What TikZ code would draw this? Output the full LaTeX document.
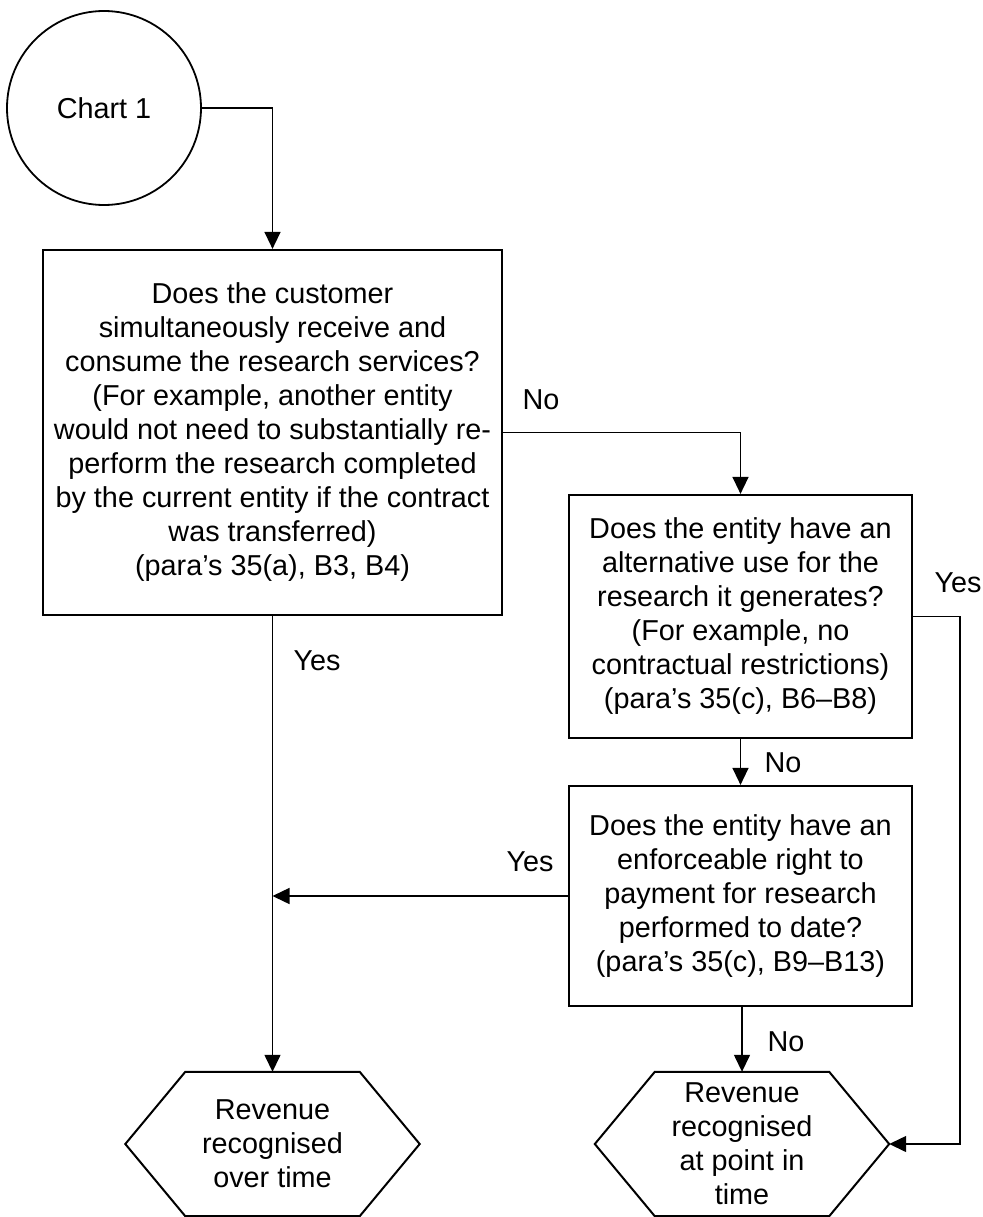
\documentclass[tikz,border=0pt]{standalone}
\usepackage{fontspec}
\setmainfont{Liberation Sans}
\usetikzlibrary{arrows.meta,calc}
\tikzset{
  txt/.style={font=\fontsize{28.8}{34}\selectfont, align=center, inner sep=0pt},
  startnode/.style={txt, circle, draw, line width=1.8pt, minimum size=194pt},
  qbox/.style={txt, rectangle, draw, line width=2.2pt},
  hexnode/.style={txt, rectangle, draw=none, minimum width=294pt, minimum height=144pt},
  hexline/.style={line width=2pt, line join=miter},
  conn/.style={line width=1.4pt, -{Triangle[width=16pt,length=17pt]}},
  lbl/.style={txt}
}
\begin{document}
\begin{tikzpicture}[x=1pt,y=-1pt]
\useasboundingbox (0,0) rectangle (982,1217);
\node[startnode] (start) at (104,108) {Chart 1};
\node[qbox, minimum width=459pt, minimum height=365pt] (q1) at (272.5,432.5)
  {Does the customer\\simultaneously receive and\\consume the research services?\\(For example, another entity\\would not need to substantially re-\\perform the research completed\\by the current entity if the contract\\was transferred)\\(para’s 35(a), B3, B4)};
\node[qbox, minimum width=343pt, minimum height=243pt] (q2) at (740.5,616.5)
  {Does the entity have an\\alternative use for the\\research it generates?\\(For example, no\\contractual restrictions)\\(para’s 35(c), B6–B8)};
\node[qbox, minimum width=343pt, minimum height=220pt] (q3) at (740.5,896)
  {Does the entity have an\\enforceable right to\\payment for research\\performed to date?\\(para’s 35(c), B9–B13)};
\node[hexnode] (h1) at (272.5,1144) {Revenue\\recognised\\over time};
\node[hexnode] (h2) at (742,1144) {Revenue\\recognised\\at point in\\time};
\foreach \h in {h1,h2}{
  \draw[hexline] (\h.west) -- ($(\h.north west)+(60,0)$) -- ($(\h.north east)+(-60,0)$) -- (\h.east) -- ($(\h.south east)+(-60,0)$) -- ($(\h.south west)+(60,0)$) -- cycle;
}
\coordinate (rx) at (960,0);
\draw[conn] (start.east) -| (q1.north);
\draw[conn] (q1.east) -| (q2.north);
\draw[conn] (q2.south) -- (q3.north);
\draw[conn] (q2.east) -- (q2.east -| rx) |- (h2.east);
\draw[conn] (q3.west) -- (q3.west -| q1.south);
\draw[conn] (q1.south) -- (h1.north);
\draw[conn] (h2.north |- q3.south) -- (h2.north);
\node[lbl] (lno1) at (541,400) {No};
\node[lbl] (lyes1) at (958,583) {Yes};
\node[lbl] (lno2) at (783,763) {No};
\node[lbl] (lyes2) at (317,661) {Yes};
\node[lbl] (lyes3) at (530,862) {Yes};
\node[lbl] (lno3) at (786,1042) {No};
\end{tikzpicture}
\end{document}
